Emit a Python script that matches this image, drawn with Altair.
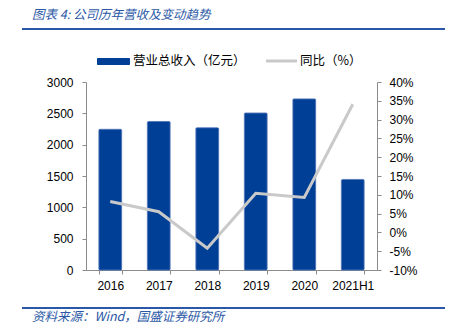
import altair as alt
import pandas as pd

years = ["2016", "2017", "2018", "2019", "2020", "2021H1"]
revenue = [2245, 2370, 2270, 2505, 2730, 1445]
growth = [8.2, 5.5, -4.2, 10.4, 9.3, 34.1]

title_text = "图表 4:  公司历年营收及变动趋势"
source_text = "资料来源：Wind，国盛证券研究所"
legend_bar = "营业总收入（亿元）"
legend_line = "同比（%）"

df = pd.DataFrame({"year": years, "revenue": revenue, "growth": growth})
one = pd.DataFrame({"k": [0]})

BLUE = "#003F96"
GRAY = "#C9C9C9"
TBLUE = "#2A58A6"
AXC = "#8C8C8C"
NUMFONT = "Liberation Sans"
CJK = "Noto Sans CJK SC"
LFS = 12

xenc = alt.X("year:N", sort=years, title=None,
             scale=alt.Scale(paddingInner=0.53, paddingOuter=0.265),
             axis=alt.Axis(labelAngle=0, labelFont=NUMFONT, labelFontSize=LFS,
                           labelFontWeight="normal",
                           labelColor="#000", labelPadding=6, tickBand="extent",
                           tickSize=4, tickColor=AXC, domainColor=AXC))

bars = alt.Chart(df).mark_bar(color=BLUE, stroke="#3B64AE", strokeWidth=0.8,
                              cornerRadius=1).encode(
    x=xenc,
    y=alt.Y("revenue:Q", title=None,
            scale=alt.Scale(domain=[0, 3000], nice=False),
            axis=alt.Axis(values=[0, 500, 1000, 1500, 2000, 2500, 3000],
                          format="d",
                          labelFont=NUMFONT, labelFontSize=LFS, labelColor="#000",
                          labelFontWeight="normal",
                          labelPadding=9, tickSize=4, tickColor=AXC,
                          domainColor=AXC, grid=False)),
)

line = alt.Chart(df).mark_line(color=GRAY, strokeWidth=3).encode(
    x=alt.X("year:N", sort=years),
    y=alt.Y("growth:Q", title=None,
            scale=alt.Scale(domain=[-10, 40], nice=False),
            axis=alt.Axis(orient="right",
                          values=[-10, -5, 0, 5, 10, 15, 20, 25, 30, 35, 40],
                          labelExpr="datum.value + '%'",
                          labelFont=NUMFONT, labelFontSize=LFS, labelColor="#000",
                          labelFontWeight="normal",
                          labelPadding=8, tickSize=4, tickColor=AXC,
                          domainColor=AXC, grid=False)),
)

base = alt.Chart(one)

title = base.mark_text(text=title_text, font=CJK, fontSize=12.5, fontStyle="italic",
                       color=TBLUE, align="left", baseline="middle").encode(
    x=alt.value(-54), y=alt.value(-67))
title_rule = base.mark_rule(color=TBLUE, strokeWidth=2).encode(
    x=alt.value(-64), x2=alt.value(359), y=alt.value(-53))
src_rule = base.mark_rule(color=TBLUE, strokeWidth=2).encode(
    x=alt.value(-64), x2=alt.value(359), y=alt.value(226))
source = base.mark_text(text=source_text, font=CJK, fontSize=12.5, fontStyle="italic",
                        color=TBLUE, align="left", baseline="middle").encode(
    x=alt.value(-54), y=alt.value(235))

leg_rect = base.mark_rect(color=BLUE, cornerRadius=1).encode(
    x=alt.value(11), x2=alt.value(44), y=alt.value(-24), y2=alt.value(-17))
leg_text1 = base.mark_text(text=legend_bar, font=CJK, fontSize=12.5, color="#000",
                           align="left", baseline="middle").encode(
    x=alt.value(47), y=alt.value(-21))
leg_line = base.mark_rule(color=GRAY, strokeWidth=3).encode(
    x=alt.value(180), x2=alt.value(211), y=alt.value(-21))
leg_text2 = base.mark_text(text=legend_line, font=CJK, fontSize=12.5, color="#000",
                           align="left", baseline="middle").encode(
    x=alt.value(214), y=alt.value(-21))

chart = alt.layer(
    bars, line, title, title_rule, src_rule, source,
    leg_rect, leg_text1, leg_line, leg_text2,
).resolve_scale(y="independent").properties(
    width=291, height=188,
    padding={"left": 86, "top": 82, "right": 74, "bottom": 61},
    autosize=alt.AutoSizeParams(type="none"),
    background="white",
).configure_view(stroke=None)

chart.save("out.html", embed_options={"renderer": "svg", "actions": False})
